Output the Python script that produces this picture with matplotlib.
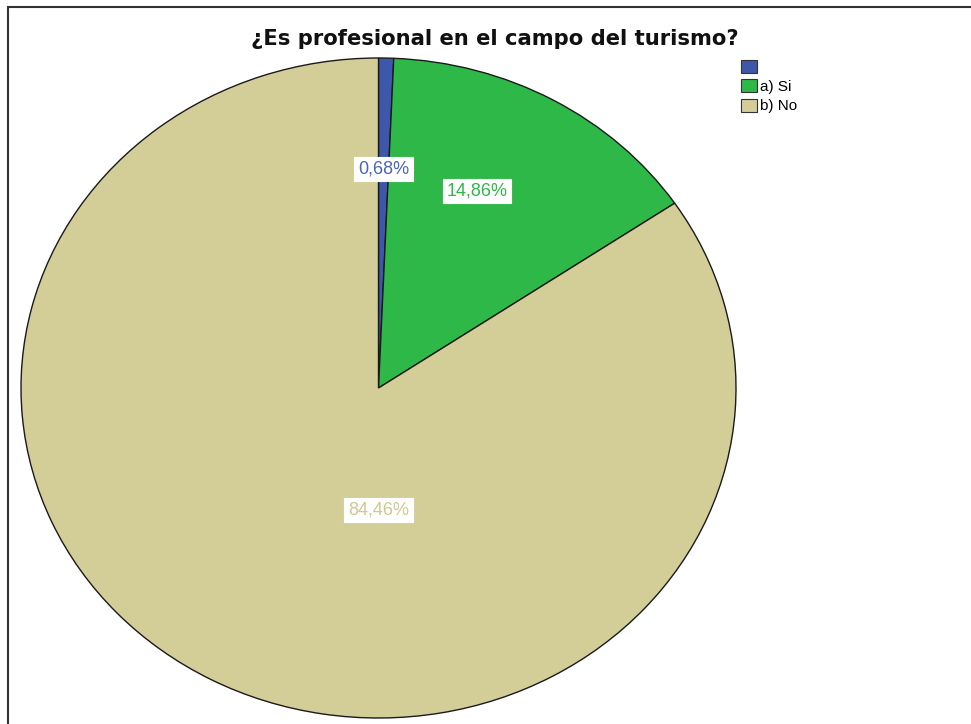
import matplotlib
matplotlib.use("Agg")
import matplotlib.pyplot as plt
from matplotlib.patches import Patch, Rectangle

# ---- data ----
categories = ["", "a) Si", "b) No"]
percentages = [0.68, 14.86, 84.46]
pct_labels = ["0,68%", "14,86%", "84,46%"]
title = "¿Es profesional en el campo del turismo?"

# ---- style ----
colors = ["#3D57AB", "#2EB848", "#D3CE97"]
text_colors = ["#4A64B6", "#2EB848", "#CFC990"]
label_pos = [(0.014, 0.664), (0.276, 0.597), (0.0, -0.37)]  # in pie units

plt.rcParams['font.family'] = ['Liberation Sans', 'DejaVu Sans']

W, H = 971, 724
fig = plt.figure(figsize=(W / 100, H / 100), dpi=100)

# pie axes (elliptical like the original)
x0, x1, ytop, ybot = 21, 736, 58, 718
ax = fig.add_axes([x0 / W, (H - ybot) / H, (x1 - x0) / W, (ybot - ytop) / H])
wedges, _ = ax.pie(percentages, colors=colors, startangle=90, counterclock=False,
                   wedgeprops=dict(edgecolor="#1a1a1a", linewidth=1.0))
ax.set_aspect('auto')
ax.set_xlim(-1, 1)
ax.set_ylim(-1, 1)
ax.axis('off')

for lbl, (px, py), tc in zip(pct_labels, label_pos, text_colors):
    ax.text(px, py, lbl, ha='center', va='center', fontsize=13, color=tc,
            bbox=dict(boxstyle='square,pad=0.2', facecolor='white', edgecolor='white', linewidth=0.8))

# title
fig.text(495 / W, 1 - 45 / H, title, ha='center', va='baseline', fontsize=15.2, fontweight='bold',
         color='#111111', family='DejaVu Sans')

# legend
handles = [Patch(facecolor=c, edgecolor='#333333', linewidth=0.8) for c in colors]
fig.legend(handles, categories, loc='upper left', bbox_to_anchor=(738 / W, 1 - 57 / H),
           frameon=False, fontsize=11, handlelength=1.05, handleheight=0.92,
           handletextpad=0.2, labelspacing=0.3, borderpad=0.2, borderaxespad=0)

# outer frame (top and left visible)
fig.patches.append(Rectangle((8 / W, -0.2), 1.5, 1.2 - 7 / H + 0.0, transform=fig.transFigure,
                             facecolor='none', edgecolor='#333333', linewidth=1.5))

fig.savefig('out.png', dpi=100)
